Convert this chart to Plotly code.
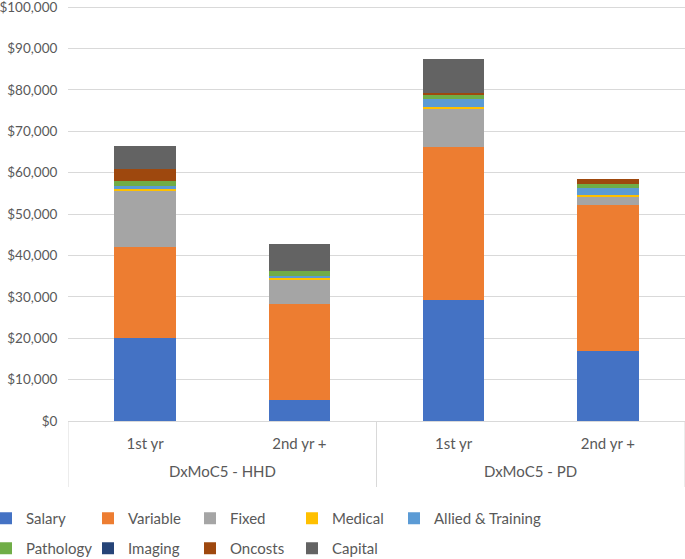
import plotly.graph_objects as go

# categories (group, sub-category)
groups = ["DxMoC5 - HHD", "DxMoC5 - PD"]
subs = ["1st yr", "2nd yr +"]

# cost components per bar (AUD)
salary = [20000, 5000, 29200, 16800]
variable = [22000, 23200, 37100, 35500]
fixed = [13800, 6100, 9100, 1900]
medical = [300, 400, 500, 400]
allied = [600, 300, 1900, 1600]
pathology = [1200, 1300, 900, 1200]
imaging = [0, 0, 0, 0]
oncosts = [2900, 0, 500, 1100]
capital = [5700, 6600, 8200, 0]

y_ticks = list(range(0, 100001, 10000))

keys = [g + " | " + s for g in groups for s in subs]
tick_text = [s for _ in groups for s in subs]

# (name, values, colour, legend row, slot in row)
series = [
    ("Salary", salary, "#4472C4", 0, 0),
    ("Variable", variable, "#ED7D31", 0, 1),
    ("Fixed", fixed, "#A5A5A5", 0, 2),
    ("Medical", medical, "#FFC000", 0, 3),
    ("Allied & Training", allied, "#5B9BD5", 0, 4),
    ("Pathology", pathology, "#70AD47", 1, 0),
    ("Imaging", imaging, "#264478", 1, 1),
    ("Oncosts", oncosts, "#9E480E", 1, 2),
    ("Capital", capital, "#636363", 1, 3),
]

font = dict(family="Lato, 'Open Sans', sans-serif", color="#595959")

fig = go.Figure()
legends = {}
slot_w = 102          # px between legend entries
plot_w = 685 - 68
plot_h = 421 - 6
for name, vals, color, row, slot in series:
    # one legend per entry keeps the Excel-like fixed grid without clipping
    leg = "legend" if not legends else "legend%d" % (len(legends) + 1)
    legends[leg] = dict(
        x=(slot * slot_w - 14 - 68) / plot_w,
        y=-(502 - 421 + row * 30) / plot_h,
        xanchor="left", yanchor="top", orientation="h",
        font=dict(size=15, **font), itemwidth=30, bgcolor="rgba(0,0,0,0)",
    )
    fig.add_trace(go.Bar(
        x=keys, y=vals, name=name,
        marker=dict(color=color, line=dict(width=0)),
        legend=leg, showlegend=True,
    ))

# group labels under each pair of bars, and divider lines between groups
n_sub = len(subs)
annotations = []
shapes = []
for i, g in enumerate(groups):
    annotations.append(dict(
        x=i * n_sub + (n_sub - 1) / 2, xref="x", y=-50 / plot_h, yref="paper",
        text=g, showarrow=False, yanchor="middle",
        font=dict(size=15, **font),
    ))
for i in range(len(groups) + 1):
    xb = i * n_sub - 0.5
    shapes.append(dict(
        type="line", xref="x", yref="paper", x0=xb, x1=xb, y0=0, y1=-66 / plot_h,
        line=dict(color="#d9d9d9", width=1),
    ))

fig.update_layout(
    width=685, height=559,
    margin=dict(l=68, r=0, t=6, b=138, autoexpand=False),
    barmode="stack", bargap=0.6,
    plot_bgcolor="white", paper_bgcolor="white",
    font=font, showlegend=True,
    annotations=annotations, shapes=shapes,
    **legends,
)
fig.update_yaxes(
    # a little headroom so the $100,000 tick and gridline are not dropped at the edge
    range=[0, 100300], tickmode="array", tickvals=y_ticks, tickformat="$,.0f",
    showgrid=True, gridcolor="#d9d9d9", gridwidth=1, zeroline=False,
    tickfont=dict(size=13.5, **font), ticklabeloverflow="allow",
    ticks="outside", ticklen=7, tickcolor="rgba(0,0,0,0)",
)
fig.update_xaxes(
    type="category", tickvals=keys, ticktext=tick_text,
    range=[-0.5, len(keys) - 0.5],
    showline=True, linecolor="#d9d9d9",
    tickfont=dict(size=15, **font), ticks="", ticklabelstandoff=9,
    automargin=False,
)

# the page's default 8px body margin would push the chart off its 685x559 frame
fig.write_html("out.html", config={"displayModeBar": False},
               post_script="document.body.style.margin='0';")
